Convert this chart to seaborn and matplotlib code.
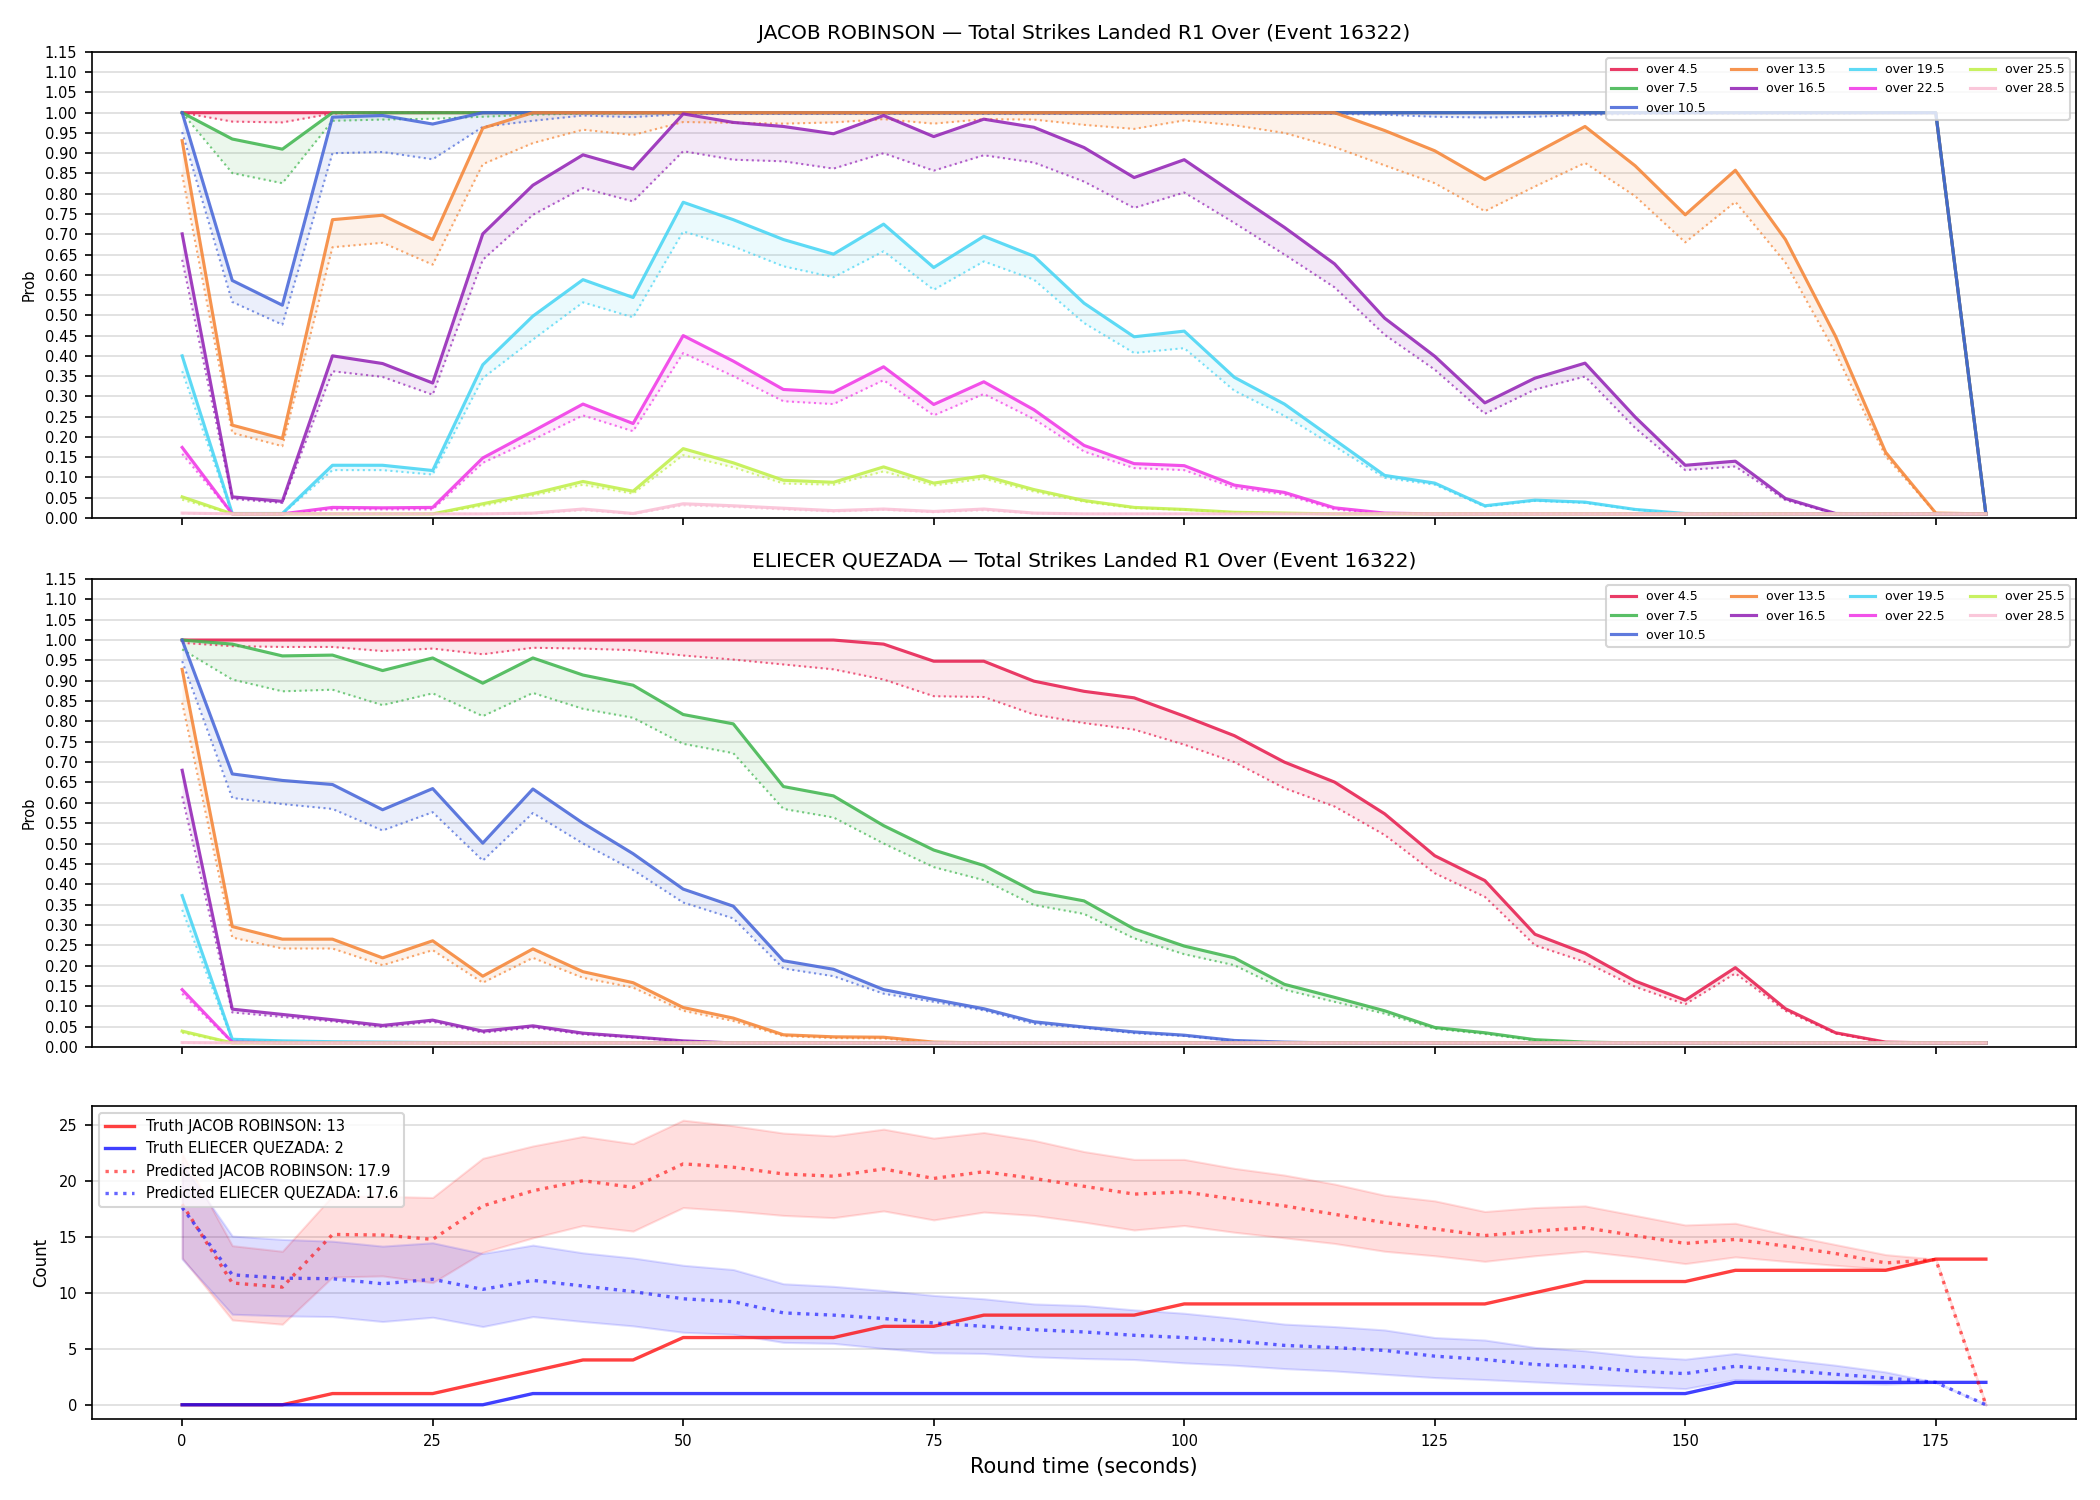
import numpy as np
import pandas as pd
import matplotlib
matplotlib.use("Agg")
import matplotlib.pyplot as plt
import seaborn as sns

# ---------------- data ----------------
times = [0, 5, 10, 15, 20, 25, 30, 35, 40, 45, 50, 55, 60, 65, 70, 75, 80, 85, 90,
         95, 100, 105, 110, 115, 120, 125, 130, 135, 140, 145, 150, 155, 160, 165,
         170, 175, 180]

thresholds = ["over 4.5", "over 7.5", "over 10.5", "over 13.5", "over 16.5",
              "over 19.5", "over 22.5", "over 25.5", "over 28.5"]
threshold_colors = ["#e6194B", "#3cb44b", "#4363d8", "#f58231", "#911eb4",
                    "#42d4f4", "#f032e6", "#bfef45", "#fabed4"]

# ---- JACOB ROBINSON: market (solid) and model (dotted) probabilities ----
jr_o45 = [1.0, 1.0, 1.0, 1.0, 1.0, 1.0, 1.0, 1.0, 1.0, 1.0, 1.0, 1.0, 1.0, 1.0, 1.0, 1.0, 1.0, 1.0, 1.0,
          1.0, 1.0, 1.0, 1.0, 1.0, 1.0, 1.0, 1.0, 1.0, 1.0, 1.0, 1.0, 1.0, 1.0, 1.0, 1.0, 1.0, 0.01]
jr_o45_p = [1.0, 0.978, 0.976, 0.998, 1.0, 1.0, 1.0, 1.0, 1.0, 1.0, 1.0, 1.0, 1.0, 1.0, 1.0, 1.0, 1.0, 1.0, 1.0,
            1.0, 1.0, 1.0, 1.0, 1.0, 1.0, 1.0, 1.0, 1.0, 1.0, 1.0, 1.0, 1.0, 1.0, 1.0, 1.0, 1.0, 0.01]
jr_o75 = [1.0, 0.935, 0.910, 1.0, 1.0, 1.0, 1.0, 1.0, 1.0, 1.0, 1.0, 1.0, 1.0, 1.0, 1.0, 1.0, 1.0, 1.0, 1.0,
          1.0, 1.0, 1.0, 1.0, 1.0, 1.0, 1.0, 1.0, 1.0, 1.0, 1.0, 1.0, 1.0, 1.0, 1.0, 1.0, 1.0, 0.01]
jr_o75_p = [1.0, 0.851, 0.826, 0.980, 0.983, 0.985, 0.990, 0.995, 0.998, 0.998, 1.0, 1.0, 1.0, 1.0, 1.0, 1.0,
            1.0, 1.0, 1.0, 1.0, 1.0, 1.0, 1.0, 1.0, 1.0, 1.0, 1.0, 1.0, 1.0, 1.0, 1.0, 1.0, 1.0, 1.0, 1.0,
            1.0, 0.01]
jr_o105 = [1.0, 0.586, 0.525, 0.989, 0.993, 0.972, 1.0, 1.0, 1.0, 1.0, 1.0, 1.0, 1.0, 1.0, 1.0, 1.0, 1.0, 1.0,
           1.0, 1.0, 1.0, 1.0, 1.0, 1.0, 1.0, 1.0, 1.0, 1.0, 1.0, 1.0, 1.0, 1.0, 1.0, 1.0, 1.0, 1.0, 0.01]
jr_o105_p = [0.952, 0.533, 0.477, 0.900, 0.903, 0.885, 0.965, 0.980, 0.993, 0.989, 0.997, 0.997, 0.997,
             0.997, 0.997, 0.997, 0.997, 0.997, 0.997, 0.997, 0.997, 0.997, 0.997, 0.997, 0.995, 0.990,
             0.988, 0.990, 0.995, 0.997, 0.998, 0.998, 0.998, 0.998, 0.999, 0.999, 0.01]
jr_o135 = [0.931, 0.229, 0.196, 0.736, 0.747, 0.687, 0.962, 1.0, 1.0, 1.0, 1.0, 1.0, 1.0, 1.0, 1.0, 1.0,
           1.0, 1.0, 1.0, 1.0, 1.0, 1.0, 1.0, 1.0, 0.956, 0.906, 0.835, 0.900, 0.966, 0.869, 0.748, 0.858,
           0.687, 0.448, 0.162, 0.012, 0.01]
jr_o135_p = [0.847, 0.210, 0.177, 0.668, 0.679, 0.625, 0.873, 0.925, 0.958, 0.945, 0.977, 0.975, 0.973,
             0.976, 0.984, 0.973, 0.984, 0.983, 0.970, 0.960, 0.981, 0.969, 0.950, 0.915, 0.870, 0.826,
             0.757, 0.818, 0.876, 0.794, 0.680, 0.780, 0.630, 0.407, 0.152, 0.012, 0.01]
jr_o165 = [0.701, 0.052, 0.041, 0.400, 0.381, 0.333, 0.701, 0.821, 0.896, 0.861, 0.997, 0.976, 0.966,
           0.948, 0.993, 0.941, 0.984, 0.964, 0.914, 0.840, 0.884, 0.800, 0.717, 0.627, 0.493, 0.399,
           0.284, 0.345, 0.382, 0.249, 0.130, 0.140, 0.048, 0.011, 0.01, 0.01, 0.01]
jr_o165_p = [0.637, 0.047, 0.037, 0.362, 0.348, 0.304, 0.637, 0.748, 0.814, 0.781, 0.905, 0.884, 0.880,
             0.862, 0.900, 0.857, 0.895, 0.877, 0.830, 0.765, 0.803, 0.728, 0.650, 0.569, 0.452, 0.366,
             0.257, 0.317, 0.349, 0.222, 0.118, 0.127, 0.044, 0.01, 0.01, 0.01, 0.01]
jr_o195 = [0.400, 0.011, 0.011, 0.130, 0.130, 0.117, 0.378, 0.498, 0.588, 0.544, 0.779, 0.736, 0.687,
           0.651, 0.725, 0.618, 0.695, 0.646, 0.530, 0.447, 0.461, 0.347, 0.281, 0.193, 0.105, 0.086,
           0.030, 0.044, 0.039, 0.021, 0.011, 0.01, 0.01, 0.01, 0.01, 0.01, 0.01]
jr_o195_p = [0.362, 0.01, 0.01, 0.118, 0.118, 0.107, 0.345, 0.440, 0.532, 0.495, 0.707, 0.670, 0.621,
             0.594, 0.658, 0.563, 0.633, 0.588, 0.481, 0.407, 0.419, 0.314, 0.252, 0.177, 0.099, 0.082,
             0.028, 0.042, 0.037, 0.020, 0.01, 0.01, 0.01, 0.01, 0.01, 0.01, 0.01]
jr_o225 = [0.174, 0.01, 0.01, 0.026, 0.025, 0.026, 0.148, 0.214, 0.281, 0.233, 0.450, 0.387, 0.317, 0.310,
           0.373, 0.280, 0.336, 0.267, 0.179, 0.134, 0.129, 0.081, 0.063, 0.025, 0.012, 0.01, 0.01, 0.01,
           0.01, 0.01, 0.01, 0.01, 0.01, 0.01, 0.01, 0.01, 0.01]
jr_o225_p = [0.158, 0.01, 0.01, 0.021, 0.021, 0.021, 0.136, 0.193, 0.253, 0.214, 0.407, 0.350, 0.288,
             0.281, 0.340, 0.253, 0.306, 0.244, 0.164, 0.123, 0.118, 0.074, 0.058, 0.021, 0.01, 0.01,
             0.01, 0.01, 0.01, 0.01, 0.01, 0.01, 0.01, 0.01, 0.01, 0.01, 0.01]
jr_o255 = [0.052, 0.01, 0.01, 0.01, 0.01, 0.01, 0.035, 0.060, 0.090, 0.066, 0.171, 0.136, 0.093, 0.088,
           0.126, 0.086, 0.104, 0.070, 0.043, 0.026, 0.021, 0.014, 0.012, 0.01, 0.01, 0.01, 0.01, 0.01,
           0.01, 0.01, 0.01, 0.01, 0.01, 0.01, 0.01, 0.01, 0.01]
jr_o255_p = [0.045, 0.01, 0.01, 0.01, 0.01, 0.01, 0.030, 0.055, 0.082, 0.060, 0.155, 0.125, 0.085, 0.082,
             0.115, 0.080, 0.097, 0.065, 0.040, 0.024, 0.020, 0.013, 0.011, 0.01, 0.01, 0.01, 0.01, 0.01,
             0.01, 0.01, 0.01, 0.01, 0.01, 0.01, 0.01, 0.01, 0.01]
jr_o285 = [0.012, 0.01, 0.01, 0.01, 0.01, 0.01, 0.01, 0.012, 0.022, 0.011, 0.035, 0.030, 0.024, 0.018,
           0.022, 0.016, 0.022, 0.012, 0.01, 0.01, 0.01, 0.01, 0.01, 0.01, 0.01, 0.01, 0.01, 0.01, 0.01,
           0.01, 0.01, 0.01, 0.01, 0.01, 0.01, 0.01, 0.01]
jr_o285_p = [0.011, 0.01, 0.01, 0.01, 0.01, 0.01, 0.01, 0.011, 0.019, 0.01, 0.031, 0.027, 0.021, 0.016,
             0.020, 0.014, 0.019, 0.011, 0.01, 0.01, 0.01, 0.01, 0.01, 0.01, 0.01, 0.01, 0.01, 0.01, 0.01,
             0.01, 0.01, 0.01, 0.01, 0.01, 0.01, 0.01, 0.01]

# ---- ELIECER QUEZADA ----
eq_o45 = [1.0, 1.0, 1.0, 1.0, 1.0, 1.0, 1.0, 1.0, 1.0, 1.0, 1.0, 1.0, 1.0, 1.0, 0.990, 0.948, 0.948,
          0.899, 0.874, 0.858, 0.813, 0.765, 0.700, 0.651, 0.573, 0.470, 0.409, 0.277, 0.230, 0.162,
          0.115, 0.195, 0.094, 0.035, 0.012, 0.01, 0.01]
eq_o45_p = [0.993, 0.985, 0.983, 0.983, 0.973, 0.979, 0.965, 0.981, 0.979, 0.975, 0.962, 0.952, 0.940,
            0.928, 0.903, 0.862, 0.860, 0.817, 0.796, 0.780, 0.743, 0.700, 0.636, 0.591, 0.521, 0.427,
            0.369, 0.250, 0.209, 0.148, 0.105, 0.181, 0.089, 0.033, 0.011, 0.01, 0.01]
eq_o75 = [1.0, 0.990, 0.961, 0.963, 0.925, 0.956, 0.894, 0.956, 0.914, 0.889, 0.817, 0.794, 0.640, 0.617,
          0.544, 0.484, 0.446, 0.382, 0.359, 0.290, 0.248, 0.219, 0.154, 0.122, 0.089, 0.048, 0.035,
          0.018, 0.012, 0.01, 0.01, 0.01, 0.01, 0.01, 0.01, 0.01, 0.01]
eq_o75_p = [0.977, 0.903, 0.874, 0.878, 0.840, 0.869, 0.813, 0.870, 0.831, 0.809, 0.745, 0.722, 0.585,
            0.564, 0.500, 0.442, 0.410, 0.349, 0.327, 0.267, 0.228, 0.201, 0.141, 0.111, 0.082, 0.045,
            0.032, 0.016, 0.011, 0.01, 0.01, 0.01, 0.01, 0.01, 0.01, 0.01, 0.01]
eq_o105 = [1.0, 0.671, 0.655, 0.645, 0.583, 0.635, 0.501, 0.634, 0.550, 0.475, 0.388, 0.346, 0.212, 0.191,
           0.141, 0.117, 0.094, 0.062, 0.049, 0.037, 0.029, 0.016, 0.012, 0.01, 0.01, 0.01, 0.01, 0.01,
           0.01, 0.01, 0.01, 0.01, 0.01, 0.01, 0.01, 0.01, 0.01]
eq_o105_p = [0.948, 0.612, 0.597, 0.585, 0.532, 0.577, 0.458, 0.575, 0.500, 0.435, 0.355, 0.316, 0.193,
             0.174, 0.131, 0.111, 0.090, 0.057, 0.047, 0.034, 0.027, 0.015, 0.011, 0.01, 0.01, 0.01, 0.01,
             0.01, 0.01, 0.01, 0.01, 0.01, 0.01, 0.01, 0.01, 0.01, 0.01]
eq_o135 = [0.928, 0.296, 0.265, 0.265, 0.219, 0.261, 0.174, 0.241, 0.185, 0.158, 0.097, 0.071, 0.030,
           0.025, 0.024, 0.012, 0.01, 0.01, 0.01, 0.01, 0.01, 0.01, 0.01, 0.01, 0.01, 0.01, 0.01, 0.01,
           0.01, 0.01, 0.01, 0.01, 0.01, 0.01, 0.01, 0.01, 0.01]
eq_o135_p = [0.846, 0.269, 0.242, 0.242, 0.201, 0.238, 0.158, 0.219, 0.170, 0.146, 0.089, 0.064, 0.027,
             0.022, 0.021, 0.011, 0.01, 0.01, 0.01, 0.01, 0.01, 0.01, 0.01, 0.01, 0.01, 0.01, 0.01, 0.01,
             0.01, 0.01, 0.01, 0.01, 0.01, 0.01, 0.01, 0.01, 0.01]
eq_o165 = [0.680, 0.093, 0.080, 0.067, 0.053, 0.066, 0.039, 0.052, 0.034, 0.025, 0.015, 0.01, 0.01, 0.01,
           0.01, 0.01, 0.01, 0.01, 0.01, 0.01, 0.01, 0.01, 0.01, 0.01, 0.01, 0.01, 0.01, 0.01, 0.01, 0.01,
           0.01, 0.01, 0.01, 0.01, 0.01, 0.01, 0.01]
eq_o165_p = [0.616, 0.085, 0.074, 0.063, 0.049, 0.062, 0.035, 0.048, 0.031, 0.023, 0.014, 0.01, 0.01,
             0.01, 0.01, 0.01, 0.01, 0.01, 0.01, 0.01, 0.01, 0.01, 0.01, 0.01, 0.01, 0.01, 0.01, 0.01,
             0.01, 0.01, 0.01, 0.01, 0.01, 0.01, 0.01, 0.01, 0.01]
eq_o195 = [0.372, 0.019, 0.015, 0.013, 0.012, 0.011, 0.01, 0.01, 0.01, 0.01, 0.01, 0.01, 0.01, 0.01, 0.01,
           0.01, 0.01, 0.01, 0.01, 0.01, 0.01, 0.01, 0.01, 0.01, 0.01, 0.01, 0.01, 0.01, 0.01, 0.01, 0.01,
           0.01, 0.01, 0.01, 0.01, 0.01, 0.01]
eq_o195_p = [0.337, 0.017, 0.013, 0.012, 0.011, 0.01, 0.01, 0.01, 0.01, 0.01, 0.01, 0.01, 0.01, 0.01,
             0.01, 0.01, 0.01, 0.01, 0.01, 0.01, 0.01, 0.01, 0.01, 0.01, 0.01, 0.01, 0.01, 0.01, 0.01,
             0.01, 0.01, 0.01, 0.01, 0.01, 0.01, 0.01, 0.01]
eq_o225 = [0.141, 0.012, 0.01, 0.01, 0.01, 0.01, 0.01, 0.01, 0.01, 0.01, 0.01, 0.01, 0.01, 0.01, 0.01,
           0.01, 0.01, 0.01, 0.01, 0.01, 0.01, 0.01, 0.01, 0.01, 0.01, 0.01, 0.01, 0.01, 0.01, 0.01, 0.01,
           0.01, 0.01, 0.01, 0.01, 0.01, 0.01]
eq_o225_p = [0.131, 0.011, 0.01, 0.01, 0.01, 0.01, 0.01, 0.01, 0.01, 0.01, 0.01, 0.01, 0.01, 0.01, 0.01,
             0.01, 0.01, 0.01, 0.01, 0.01, 0.01, 0.01, 0.01, 0.01, 0.01, 0.01, 0.01, 0.01, 0.01, 0.01,
             0.01, 0.01, 0.01, 0.01, 0.01, 0.01, 0.01]
eq_o255 = [0.039, 0.01, 0.01, 0.01, 0.01, 0.01, 0.01, 0.01, 0.01, 0.01, 0.01, 0.01, 0.01, 0.01, 0.01,
           0.01, 0.01, 0.01, 0.01, 0.01, 0.01, 0.01, 0.01, 0.01, 0.01, 0.01, 0.01, 0.01, 0.01, 0.01, 0.01,
           0.01, 0.01, 0.01, 0.01, 0.01, 0.01]
eq_o255_p = [0.035, 0.01, 0.01, 0.01, 0.01, 0.01, 0.01, 0.01, 0.01, 0.01, 0.01, 0.01, 0.01, 0.01, 0.01,
             0.01, 0.01, 0.01, 0.01, 0.01, 0.01, 0.01, 0.01, 0.01, 0.01, 0.01, 0.01, 0.01, 0.01, 0.01,
             0.01, 0.01, 0.01, 0.01, 0.01, 0.01, 0.01]
eq_o285 = [0.011, 0.01, 0.01, 0.01, 0.01, 0.01, 0.01, 0.01, 0.01, 0.01, 0.01, 0.01, 0.01, 0.01, 0.01,
           0.01, 0.01, 0.01, 0.01, 0.01, 0.01, 0.01, 0.01, 0.01, 0.01, 0.01, 0.01, 0.01, 0.01, 0.01, 0.01,
           0.01, 0.01, 0.01, 0.01, 0.01, 0.01]
eq_o285_p = [0.01, 0.01, 0.01, 0.01, 0.01, 0.01, 0.01, 0.01, 0.01, 0.01, 0.01, 0.01, 0.01, 0.01, 0.01,
             0.01, 0.01, 0.01, 0.01, 0.01, 0.01, 0.01, 0.01, 0.01, 0.01, 0.01, 0.01, 0.01, 0.01, 0.01,
             0.01, 0.01, 0.01, 0.01, 0.01, 0.01, 0.01]

# ---- cumulative counts ----
truth_jr = [0, 0, 0, 1, 1, 1, 2, 3, 4, 4, 6, 6, 6, 6, 7, 7, 8, 8, 8, 8, 9, 9, 9, 9, 9, 9, 9, 10, 11, 11,
            11, 12, 12, 12, 12, 13, 13]
truth_eq = [0, 0, 0, 0, 0, 0, 0, 1, 1, 1, 1, 1, 1, 1, 1, 1, 1, 1, 1, 1, 1, 1, 1, 1, 1, 1, 1, 1, 1, 1,
            1, 2, 2, 2, 2, 2, 2]
pred_jr = [17.9, 10.87, 10.5, 15.2, 15.15, 14.76, 17.75, 19.1, 20.0, 19.4, 21.5, 21.2, 20.6, 20.4, 21.05,
           20.2, 20.8, 20.2, 19.5, 18.8, 19.0, 18.35, 17.75, 17.0, 16.26, 15.7, 15.1, 15.5, 15.8, 15.1,
           14.4, 14.76, 14.16, 13.5, 12.66, 12.96, 0.0]
pred_jr_hi = [22.4, 14.2, 13.7, 18.65, 18.6, 18.5, 22.0, 23.1, 23.95, 23.3, 25.4, 24.9, 24.25, 24.0, 24.6,
              23.8, 24.3, 23.6, 22.6, 21.9, 21.9, 21.1, 20.5, 19.7, 18.7, 18.2, 17.25, 17.6, 17.75, 16.9,
              16.05, 16.2, 15.2, 14.3, 13.4, 13.0, 0.0]
pred_jr_lo = [13.1, 7.57, 7.19, 11.4, 11.5, 10.9, 13.6, 14.9, 16.0, 15.5, 17.6, 17.3, 16.9, 16.7, 17.3,
              16.5, 17.2, 16.9, 16.3, 15.6, 16.0, 15.4, 14.9, 14.4, 13.7, 13.3, 12.8, 13.3, 13.7, 13.2,
              12.6, 13.2, 12.8, 12.45, 12.1, 13.0, 0.0]
pred_eq = [17.6, 11.6, 11.3, 11.25, 10.8, 11.2, 10.3, 11.1, 10.6, 10.1, 9.46, 9.2, 8.2, 8.0, 7.7, 7.3,
           7.0, 6.7, 6.5, 6.2, 6.0, 5.7, 5.3, 5.1, 4.85, 4.34, 4.04, 3.6, 3.38, 3.0, 2.78, 3.44, 3.08,
           2.72, 2.4, 2.0, 0.0]
pred_eq_hi = [21.5, 15.06, 14.76, 14.6, 14.16, 14.46, 13.5, 14.25, 13.56, 13.1, 12.45, 12.07, 10.8, 10.57,
              10.2, 9.76, 9.46, 9.0, 8.86, 8.47, 8.17, 7.72, 7.2, 6.98, 6.68, 6.0, 5.78, 5.12, 4.82, 4.34,
              4.07, 4.58, 4.04, 3.53, 2.93, 2.0, 0.0]
pred_eq_lo = [13.0, 8.08, 7.93, 7.87, 7.43, 7.81, 6.98, 7.87, 7.43, 7.04, 6.47, 6.29, 5.57, 5.48, 5.03,
              4.64, 4.58, 4.28, 4.13, 4.04, 3.74, 3.53, 3.23, 3.02, 2.72, 2.43, 2.25, 2.04, 1.83, 1.65,
              1.44, 2.25, 2.13, 1.95, 1.83, 2.0, 0.0]

fighter_a = "JACOB ROBINSON"
fighter_b = "ELIECER QUEZADA"
event_id = 16322
legend_vals = {"truth_a": 13, "truth_b": 2, "pred_a": 17.9, "pred_b": 17.6}

jr_market = [jr_o45, jr_o75, jr_o105, jr_o135, jr_o165, jr_o195, jr_o225, jr_o255, jr_o285]
jr_model = [jr_o45_p, jr_o75_p, jr_o105_p, jr_o135_p, jr_o165_p, jr_o195_p, jr_o225_p, jr_o255_p, jr_o285_p]
eq_market = [eq_o45, eq_o75, eq_o105, eq_o135, eq_o165, eq_o195, eq_o225, eq_o255, eq_o285]
eq_model = [eq_o45_p, eq_o75_p, eq_o105_p, eq_o135_p, eq_o165_p, eq_o195_p, eq_o225_p, eq_o255_p, eq_o285_p]

# ---------------- figure ----------------
plt.rcParams["font.family"] = ["DejaVu Sans"]
fig = plt.figure(figsize=(14, 10), dpi=150)
ax_bot = fig.add_axes([0.0438, 0.054, 0.9448, 0.2087])
ax_top = fig.add_axes([0.0438, 0.6547, 0.9448, 0.3107], sharex=ax_bot)
ax_mid = fig.add_axes([0.0438, 0.302, 0.9448, 0.312], sharex=ax_bot)

t_arr = np.array(times, dtype=float)


def prob_panel(ax, market, model, name):
    for lab, col, m, p in zip(thresholds, threshold_colors, market, model):
        ax.fill_between(t_arr, m, p, color=col, alpha=0.1, linewidth=0)
        sns.lineplot(x=t_arr, y=p, ax=ax, color=col, lw=1.0, alpha=0.7,
                     linestyle=":", legend=False)
        sns.lineplot(x=t_arr, y=m, ax=ax, color=col, lw=1.5, alpha=0.85, label=lab)
    ax.set_ylim(0, 1.15)
    ax.set_yticks(np.round(np.arange(0, 1.1501, 0.05), 2))
    ax.set_yticklabels([f"{v:.2f}" for v in np.arange(0, 1.1501, 0.05)])
    ax.grid(axis="y", color="#dddddd", lw=0.8)
    ax.set_axisbelow(True)
    ax.set_ylabel("Prob", fontsize=7)
    ax.set_xlabel("")
    ax.set_title(f"{name} \u2014 Total Strikes Landed R1 Over (Event {event_id})", fontsize=9.7)
    ax.tick_params(axis="both", labelsize=7)
    ax.tick_params(axis="x", labelbottom=False)
    ax.legend(loc="upper right", ncol=4, fontsize=6)


prob_panel(ax_top, jr_market, jr_model, fighter_a)
prob_panel(ax_mid, eq_market, eq_model, fighter_b)

# bottom panel
ax_bot.fill_between(t_arr, pred_jr_lo, pred_jr_hi, color="red", alpha=0.13, lw=1)
ax_bot.fill_between(t_arr, pred_eq_lo, pred_eq_hi, color="blue", alpha=0.13, lw=1)
sns.lineplot(x=t_arr, y=truth_jr, ax=ax_bot, color="red", lw=1.6, alpha=0.75,
             label=f"Truth {fighter_a}: {legend_vals['truth_a']}")
sns.lineplot(x=t_arr, y=truth_eq, ax=ax_bot, color="blue", lw=1.6, alpha=0.75,
             label=f"Truth {fighter_b}: {legend_vals['truth_b']}")
sns.lineplot(x=t_arr, y=pred_jr, ax=ax_bot, color="red", lw=1.6, alpha=0.6, linestyle=":",
             label=f"Predicted {fighter_a}: {legend_vals['pred_a']}")
sns.lineplot(x=t_arr, y=pred_eq, ax=ax_bot, color="blue", lw=1.6, alpha=0.6, linestyle=":",
             label=f"Predicted {fighter_b}: {legend_vals['pred_b']}")
ax_bot.set_xlim(-9, 189)
ax_bot.set_xticks([0, 25, 50, 75, 100, 125, 150, 175])
ax_bot.grid(axis="y", color="#dddddd", lw=0.8)
ax_bot.set_axisbelow(True)
ax_bot.set_ylabel("Count", fontsize=8)
ax_bot.set_xlabel("Round time (seconds)", fontsize=10)
ax_bot.tick_params(axis="both", labelsize=7)
ax_bot.legend(loc="upper left", fontsize=7)

fig.savefig("out.png", dpi=150)
